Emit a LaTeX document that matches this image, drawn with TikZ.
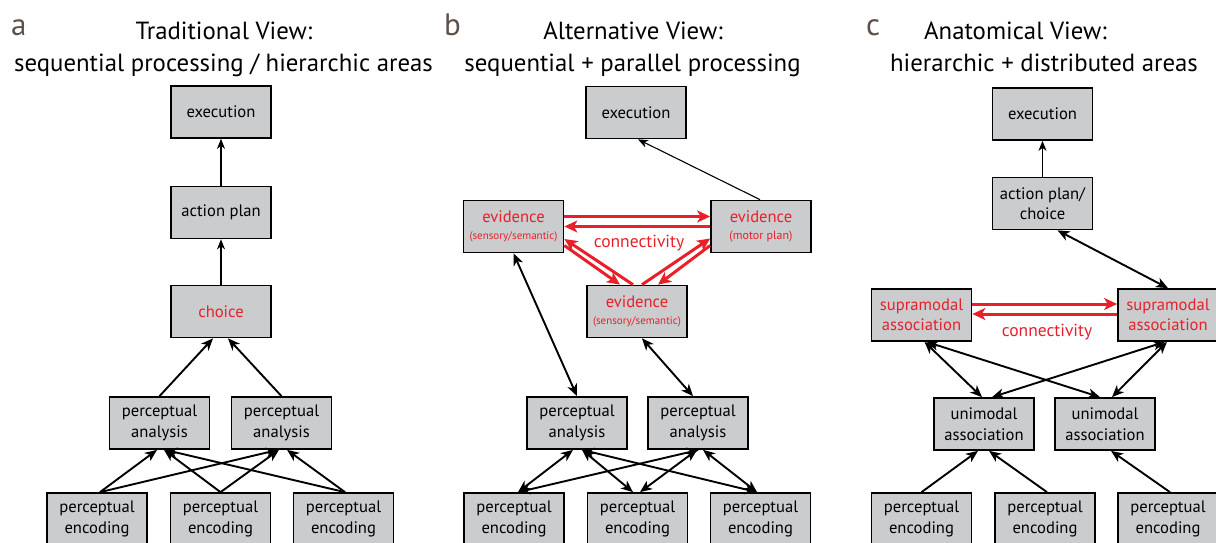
\documentclass[tikz,border=0pt]{standalone}
\usepackage{fontspec}
\setmainfont{PT Sans}
\usetikzlibrary{arrows.meta,calc}
\definecolor{boxgray}{HTML}{CBCCCE}
\definecolor{cred}{HTML}{E8202A}
\definecolor{lbl}{HTML}{5E5049}
\begin{document}
\begin{tikzpicture}[x=1pt,y=-1pt,
  box/.style={draw=black, line width=1.7pt, fill=boxgray, minimum width=100pt, minimum height=52pt, inner sep=0pt, align=center, font=\fontsize{16.6}{20.5}\selectfont},
  redtxt/.style={text=cred},
  thinarr/.style={line width=1.1pt, -{Stealth[length=10pt,width=8pt,inset=3pt]}},
  arr/.style={line width=1.9pt, -{Stealth[length=12pt,width=10pt,inset=3.5pt]}},
  darr/.style={line width=1.9pt, {Stealth[length=12pt,width=10pt,inset=3.5pt]}-{Stealth[length=12pt,width=10pt,inset=3.5pt]}},
  rarr/.style={draw=cred, line width=3pt, -{Stealth[length=13pt,width=12pt,inset=3.5pt]}},
  ttl/.style={anchor=base, font=\fontsize{24.8}{29}\selectfont, inner sep=0pt},
  plbl/.style={anchor=base west, font=\fontsize{31}{34}\selectfont, text=lbl, inner sep=0pt},
  conn/.style={text=cred, font=\fontsize{17.5}{20}\selectfont, inner sep=0pt},
]
\useasboundingbox (0,0) rectangle (1216,543);
\fill[white] (0,0) rectangle (1216,543);

% titles
\node[plbl] (la) at (11,36) {a};
\node[ttl] (ta1) at (224,40) {Traditional View:};
\node[ttl] (ta2) at (223.5,71) {sequential processing / hierarchic areas};
\node[plbl] (lb) at (444,36) {b};
\node[ttl] (tb1) at (633,40) {Alternative View:};
\node[ttl] (tb2) at (632.5,71) {sequential + parallel processing};
\node[plbl] (lc) at (866,36) {c};
\node[ttl] (tc1) at (1015.5,40) {Anatomical View:};
\node[ttl] (tc2) at (1044,71) {hierarchic + distributed areas};

% ---------- panel a ----------
\node[box] (exA) at (221,112) {execution};
\node[box] (apA) at (221,212.5) {action plan};
\node[box,redtxt] (chA) at (221,311.5) {choice};
\node[box] (anA1) at (159.5,423) {perceptual\\analysis};
\node[box] (anA2) at (281.5,423) {perceptual\\analysis};
\node[box] (enA1) at (97,519) {perceptual\\encoding};
\node[box] (enA2) at (220.5,519) {perceptual\\encoding};
\node[box] (enA3) at (343.5,519) {perceptual\\encoding};

\draw[thinarr] (apA.north) -- (exA.south);
\draw[thinarr] (chA.north) -- (apA.south);
\draw[arr] (anA1.north) -- ([xshift=-8pt]chA.south);
\draw[arr] (anA2.north) -- ([xshift=7pt]chA.south);
\draw[arr] ([xshift=3pt]enA1.north) -- ([xshift=-2.5pt]anA1.south);
\draw[arr] ([xshift=3pt]enA1.north) -- ([xshift=-3.5pt]anA2.south);
\draw[arr] (enA2.north) -- ([xshift=4.5pt]anA1.south);
\draw[arr] (enA2.north) -- ([xshift=-2.5pt]anA2.south);
\draw[arr] ([xshift=1.5pt]enA3.north) -- ([xshift=5.5pt]anA1.south);
\draw[arr] ([xshift=1.5pt]enA3.north) -- ([xshift=5.5pt]anA2.south);

% ---------- panel b ----------
\node[box] (exB) at (636,112.5) {execution};
\node[box,redtxt] (evL) at (513.5,226.5) {evidence\\[-3pt]{\fontsize{11}{13}\selectfont (sensory/semantic)}};
\node[box,redtxt] (evR) at (761,226.5) {evidence\\[-3pt]{\fontsize{12}{14}\selectfont (motor plan)}};
\node[box,redtxt] (evM) at (637,311.5) {evidence\\[-3pt]{\fontsize{11}{13}\selectfont (sensory/semantic)}};
\node[box] (anB1) at (577,423) {perceptual\\analysis};
\node[box] (anB2) at (698,423) {perceptual\\analysis};
\node[box] (enB1) at (514,519) {perceptual\\encoding};
\node[box] (enB2) at (637.5,519) {perceptual\\encoding};
\node[box] (enB3) at (760.5,519) {perceptual\\encoding};
\node[conn] (cB) at (639,243) {connectivity};

\draw[thinarr] ([xshift=-1pt]evR.north) -- ([xshift=2pt]exB.south);
\draw[darr] (evL.south) -- (anB1.north);
\draw[darr] ([xshift=5pt]evM.south) -- ([xshift=-5pt]anB2.north);
\draw[darr] ([xshift=4pt]enB1.north) -- ([xshift=-4pt]anB1.south);
\draw[darr] ([xshift=4pt]enB1.north) -- ([xshift=1pt]anB2.south);
\draw[darr] ([xshift=-4.5pt]enB2.north) -- ([xshift=5pt]anB1.south);
\draw[darr] ([xshift=2.5pt]enB2.north) -- ([xshift=-1pt]anB2.south);
\draw[darr] ([xshift=-3.5pt]enB3.north) -- ([xshift=5pt]anB1.south);
\draw[darr] ([xshift=-3.5pt]enB3.north) -- ([xshift=5pt]anB2.south);

\draw[rarr] ([yshift=10pt]evL.east) -- ([yshift=10pt]evR.west);
\draw[rarr] ([yshift=0pt]evR.west) -- ([yshift=0pt]evL.east);
\draw[rarr] ([xshift=-4pt]evM.north) -- ([yshift=-12.5pt]evL.east);
\draw[rarr] ([yshift=-19pt]evL.east) -- ([xshift=-17pt]evM.north);
\draw[rarr] ([xshift=5pt]evM.north) -- ([yshift=-12pt]evR.west);
\draw[rarr] ([yshift=-19pt]evR.west) -- ([xshift=21pt]evM.north);

% ---------- panel c ----------
\node[box] (exC) at (1042.5,114) {execution};
\node[box] (apC) at (1042.5,203.5) {action plan/\\choice};
\node[box,redtxt] (suL) at (921.5,315) {supramodal\\association};
\node[box,redtxt] (suR) at (1168,315) {supramodal\\association};
\node[box] (unL) at (984,424) {unimodal\\association};
\node[box] (unR) at (1105,424) {unimodal\\association};
\node[box] (enC1) at (921.5,519) {perceptual\\encoding};
\node[box] (enC2) at (1045,519) {perceptual\\encoding};
\node[box] (enC3) at (1168,519) {perceptual\\encoding};
\node[conn] (cC) at (1047,332) {connectivity};

\draw[thinarr] (apC.north) -- (exC.south);
\draw[darr] ([xshift=15pt]apC.south) -- (suR.north);
\draw[rarr] ([yshift=11pt]suL.east) -- ([yshift=11pt]suR.west);
\draw[rarr] ([yshift=1pt]suR.west) -- ([yshift=1pt]suL.east);
\draw[darr] ([xshift=3pt]suL.south) -- ([xshift=-2pt]unL.north);
\draw[darr] ([xshift=5pt]suL.south) -- ([xshift=-5pt]unR.north);
\draw[darr] ([xshift=-3pt]suR.south) -- ([xshift=8pt]unL.north);
\draw[darr] ([xshift=-1pt]suR.south) -- ([xshift=7pt]unR.north);
\draw[arr] (enC1.north) -- ([xshift=-6pt]unL.south);
\draw[arr] ([xshift=2pt]enC2.north) -- ([xshift=5pt]unL.south);
\draw[arr] ([xshift=2pt]enC3.north) -- ([xshift=6pt]unR.south);
\end{tikzpicture}
\end{document}
